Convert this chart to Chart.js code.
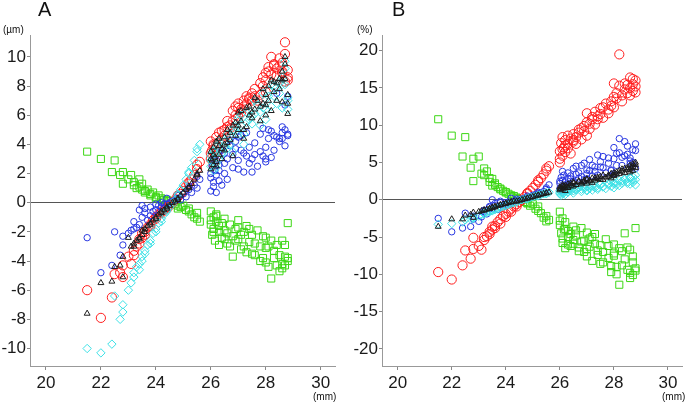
<!DOCTYPE html>
<html lang="en">
<head>
<meta charset="UTF-8">
<title>Axial length scatter A / B</title>
<script src="https://cdn.jsdelivr.net/npm/chart.js"></script>
<style>
  body { margin: 0; background: #fff; font-family: "Liberation Sans", Arial, sans-serif; }
  #wrap { position: relative; width: 688px; height: 406px; overflow: hidden; }
  .panel { position: absolute; top: 0; width: 344px; height: 406px; }
  .lbl { position: absolute; color: #111; white-space: nowrap; line-height: 1; }
</style>
</head>
<body>
<div id="wrap">
  <div class="panel" style="left:0"><canvas id="chartA"></canvas></div>
  <div class="panel" style="left:344px"><canvas id="chartB"></canvas></div>
  <span class="lbl" style="left:38px; top:-1px; font-size:20px">A</span>
  <span class="lbl" style="left:3px; top:25px; font-size:10px">(µm)</span>
  <span class="lbl" style="left:313px; top:392px; font-size:10px">(mm)</span>
  <span class="lbl" style="left:392px; top:-1px; font-size:20px">B</span>
  <span class="lbl" style="left:357px; top:25px; font-size:10px">(%)</span>
  <span class="lbl" style="left:662px; top:392px; font-size:10px">(mm)</span>
</div>
<script>
// axial length (mm), shared by every series
const axialLength = [21.5, 22.0, 22.4, 22.5, 22.7, 22.8, 22.8, 23.0, 23.1, 23.2, 23.3, 23.4, 23.5, 23.5, 23.6, 23.7, 23.8, 23.9, 24.0, 24.1,
  24.2, 24.3, 24.4, 24.5, 24.6, 24.7, 24.8, 24.9, 25.0, 25.1, 25.2, 25.3, 25.4, 25.5, 25.6,
  26.0, 26.0, 26.05, 26.1, 26.1, 26.15, 26.2, 26.2, 26.3, 26.3, 26.4, 26.5, 26.5, 26.6, 26.7, 26.8, 26.8, 26.9, 27.0, 27.0,
  27.1, 27.2, 27.3, 27.3, 27.4, 27.5, 27.6, 27.7, 27.8, 27.9, 28.0, 28.0, 28.1, 28.2, 28.2, 28.3, 28.4, 28.5, 28.6, 28.6,
  28.7, 28.7, 28.8, 28.8, 28.8,
  23.2, 23.4, 23.6, 23.8, 24.0, 24.2, 24.4, 24.8, 25.2, 25.5,
  26.0, 26.1, 26.2, 26.3, 26.4, 26.5, 26.6, 26.7, 26.9, 27.0, 27.1, 27.2, 27.4, 27.5, 27.6, 27.8, 27.9, 28.0, 28.1, 28.3,
  28.4, 28.5, 28.6, 28.7];

// panel A (µm)
const aRed = [-6.0, -7.9, -6.5, -4.9, -4.8, -5.1, -4.3, -3.7, -4.2, -3.3, -3.0, -2.8, -2.4, -2.1, -2.0, -1.7, -1.5, -1.2, -1.0, -0.8,
  -0.6, -0.5, -0.3, -0.2, 0.0, 0.2, 0.4, 0.6, 0.8, 1.1, 1.3, 1.6, 1.9, 2.3, 2.8,
  3.0, 4.2, 3.6, 2.6, 4.0, 3.3, 4.5, 3.8, 4.1, 4.8, 4.4, 5.0, 4.6, 5.2, 5.1, 6.3, 5.6, 6.6, 5.9, 6.5,
  6.2, 7.0, 6.8, 7.3, 7.1, 7.5, 7.3, 7.0, 8.2, 8.0, 8.4, 7.6, 9.3, 10.0, 8.8, 9.4, 9.2, 9.4, 9.0, 9.6,
  11.0, 8.3, 9.1, 8.6, 8.4,
  -3.6, -2.5, -2.2, -1.6, -1.1, -0.7, -0.4, 0.5, 1.4, 2.6,
  3.4, 3.9, 4.0, 3.6, 4.9, 4.3, 5.6, 5.3, 6.0, 6.8, 6.4, 6.6, 7.2, 7.0, 7.8, 7.4, 8.6, 8.9, 9.0, 9.5,
  8.7, 9.9, 8.9, 10.2];
const aBlue = [-2.4, -4.8, -4.3, -2.0, -3.6, -2.9, -2.3, -2.1, -1.9, -1.3, -1.7, -0.5, -1.0, -0.2, -0.7, -1.2, -0.3, -0.6, -0.5, -0.2,
  -0.3, -0.1, -0.1, 0.0, 0.1, 0.2, 0.3, 0.2, 0.6, 0.4, 0.9, 0.7, 1.2, 1.0, 1.6,
  1.7, 0.8, 2.5, 1.4, 3.0, 2.2, 0.7, 1.9, 1.5, 2.6, 1.2, 3.4, 2.0, 1.6, 3.9, 2.4, 3.3, 4.2, 2.9, 4.5,
  3.6, 2.1, 3.2, 4.8, 2.7, 3.0, 4.1, 2.5, 3.5, 5.1, 2.8, 3.0, 4.4, 4.9, 3.1, 4.6, 7.5, 4.2, 4.8, 4.4,
  6.7, 5.0, 4.7, 7.3, 4.6,
  -1.8, -1.5, -0.4, -0.9, -0.1, 0.0, 0.3, 0.5, 1.1, 1.8,
  2.0, 1.1, 2.9, 2.2, 3.6, 2.7, 3.0, 4.3, 3.7, 2.3, 4.6, 3.4, 3.8, 2.1, 3.3, 4.7, 3.2, 3.8, 5.0, 3.6,
  4.5, 4.4, 5.2, 3.9];
const aBlack = [-7.6, -5.5, -5.4, -4.4, -4.3, -5.1, -3.7, -2.4, -3.0, -3.0, -2.6, -2.4, -2.2, -1.9, -1.8, -1.6, -1.4, -1.2, -1.0, -0.8,
  -0.6, -0.5, -0.3, -0.2, 0.0, 0.1, 0.3, 0.5, 0.7, 0.9, 1.1, 1.3, 1.6, 1.9, 2.2,
  2.3, 3.5, 2.9, 3.8, 2.6, 3.1, 4.2, 2.5, 3.3, 3.9, 3.0, 4.5, 3.6, 4.1, 4.8, 3.2, 5.3, 4.6, 6.2, 5.0,
  5.6, 4.4, 6.5, 5.2, 6.0, 5.8, 6.4, 7.0, 5.6, 6.8, 7.4, 6.0, 7.0, 8.4, 6.3, 7.6, 8.2, 8.5, 8.4, 6.9,
  10.0, 9.5, 7.4, 6.8, 6.1,
  -2.8, -2.5, -2.0, -1.5, -1.1, -0.7, -0.4, 0.2, 1.0, 2.0,
  3.0, 3.3, 2.8, 4.4, 3.7, 4.0, 5.0, 4.3, 5.5, 5.3, 6.3, 5.0, 6.6, 6.2, 7.2, 6.6, 7.8, 6.7, 8.0, 8.3,
  7.0, 7.8, 9.0, 8.5];
const aCyan = [-10.0, -10.3, -9.7, -6.4, -8.0, -7.0, -7.5, -6.0, -5.5, -5.1, -4.4, -4.6, -3.7, -4.0, -3.3, -2.9, -2.6, -2.1, -1.8, -1.4,
  -1.1, -0.8, -0.5, -0.3, -0.1, 0.2, 0.5, 0.9, 1.2, 1.6, 2.0, 2.4, 2.9, 3.5, 4.0,
  2.5, 3.2, 2.8, 3.5, 2.2, 3.4, 3.9, 2.7, 3.0, 4.2, 3.3, 4.2, 3.9, 3.7, 4.5, 3.5, 5.0, 4.9, 5.8, 4.7,
  5.3, 4.0, 6.2, 5.5, 5.7, 5.4, 6.1, 6.7, 5.3, 6.5, 7.1, 5.7, 7.3, 8.1, 6.6, 7.3, 7.9, 8.2, 8.1, 6.5,
  9.7, 9.2, 7.2, 7.0, 6.4,
  -4.8, -4.2, -3.5, -2.8, -2.0, -1.3, -0.6, 0.6, 2.1, 3.7,
  2.9, 3.6, 2.4, 4.0, 3.4, 3.8, 4.7, 4.0, 5.2, 5.6, 6.0, 4.7, 6.3, 5.9, 7.0, 6.2, 7.5, 6.4, 7.7, 8.0,
  6.8, 7.5, 8.6, 8.1];
const aGreen = [3.5, 3.0, 2.1, 2.9, 1.9, 1.3, 2.1, 1.6, 1.9, 1.2, 1.0, 1.6, 1.3, 0.9, 0.8, 0.9, 0.6, 0.7, 0.4, 0.5,
  0.3, 0.2, 0.2, 0.1, 0.0, -0.1, -0.2, -0.3, -0.2, -0.5, -0.4, -0.8, -1.0, -0.7, -1.3,
  -0.6, -1.5, -2.2, -1.0, -1.8, -2.6, -1.3, -0.8, -2.0, -1.6, -2.4, -1.1, -1.9, -2.8, -1.5, -2.3, -3.7, -1.8, -1.2, -2.5,
  -3.2, -2.0, -1.6, -3.4, -2.7, -2.2, -3.6, -1.9, -3.0, -3.8, -2.4, -4.1, -3.0, -5.2, -2.6, -3.8, -4.3, -4.7, -2.6, -4.2,
  -3.7, -4.3, -1.4, -4.0, -3.8,
  1.4, 1.1, 0.7, 0.5, 0.3, 0.2, 0.1, -0.4, -0.6, -1.1,
  -1.2, -2.0, -0.9, -2.9, -1.4, -2.5, -2.1, -3.0, -2.6, -1.7, -2.2, -3.0, -1.8, -3.5, -2.8, -4.0, -2.3, -3.1, -4.4, -3.3,
  -2.9, -3.6, -4.5, -2.9];

// panel B (%)
const bRed = [-9.7, -10.7, -8.8, -6.8, -7.9, -5.1, -6.6, -6.2, -6.7, -5.0, -4.9, -4.3, -4.0, -3.6, -3.5, -3.0, -2.6, -2.2, -1.9, -1.6,
  -1.2, -0.9, -0.6, -0.3, 0.0, 0.4, 0.8, 1.2, 1.6, 2.0, 2.4, 2.9, 3.4, 3.9, 4.5,
  5.0, 6.5, 7.6, 5.9, 8.4, 7.0, 6.4, 8.0, 6.9, 7.5, 8.2, 7.8, 8.8, 7.5, 9.0, 8.1, 9.6, 9.9, 8.6, 11.6,
  10.2, 10.8, 10.1, 11.8, 11.2, 12.3, 11.0, 12.9, 11.6, 13.2, 12.4, 15.6, 13.6, 19.5, 15.3, 14.0, 15.6, 14.3, 16.4, 15.0,
  15.5, 14.6, 16.0, 14.4, 15.2,
  -5.4, -4.6, -3.8, -3.2, -2.3, -1.6, -0.9, 0.9, 2.6, 4.2,
  5.5, 6.8, 7.3, 8.6, 6.2, 8.0, 8.4, 9.4, 9.2, 10.4, 9.5, 11.1, 10.8, 11.5, 12.4, 12.1, 12.6, 13.8, 14.3, 13.2,
  14.8, 15.4, 14.0, 16.2];
const bBlue = [-2.5, -4.3, -3.8, -1.8, -3.6, -2.6, -2.2, -2.9, -2.3, -1.6, -1.9, -0.9, -1.2, 0.0, -0.8, -1.3, -0.4, -0.7, -0.6, -0.3,
  -0.4, -0.2, -0.1, 0.0, 0.1, 0.2, 0.3, 0.4, 0.6, 0.7, 0.8, 0.9, 1.1, 1.4, 2.0,
  2.2, 1.5, 3.0, 1.2, 2.6, 3.3, 1.8, 2.4, 3.6, 2.0, 2.8, 4.2, 2.5, 3.4, 2.9, 4.6, 3.1, 2.7, 4.0, 3.5,
  5.4, 3.2, 4.4, 3.8, 6.0, 5.1, 4.3, 3.6, 5.6, 4.0, 3.5, 7.0, 4.6, 8.2, 6.3, 5.7, 7.8, 6.1, 5.2, 4.8,
  6.7, 4.5, 7.5, 6.6, 4.2,
  -1.4, -1.0, -0.5, -0.2, -0.4, 0.2, 0.1, 0.5, 1.0, 1.6,
  2.5, 3.8, 2.0, 2.9, 3.2, 2.3, 4.5, 3.6, 4.9, 2.8, 3.9, 4.6, 3.3, 4.4, 5.8, 4.9, 3.9, 5.5, 6.2, 4.6,
  5.9, 7.2, 5.6, 5.0];
const bBlack = [-3.6, -2.6, -2.6, -2.1, -2.0, -2.4, -1.7, -1.6, -1.5, -1.4, -1.3, -1.2, -1.1, -1.0, -0.9, -0.8, -0.7, -0.6, -0.5, -0.4,
  -0.3, -0.2, -0.2, -0.1, 0.0, 0.1, 0.2, 0.3, 0.4, 0.5, 0.6, 0.7, 0.8, 0.9, 1.0,
  1.3, 1.7, 1.5, 2.0, 1.4, 1.8, 1.6, 1.2, 2.1, 1.7, 1.9, 2.2, 1.8, 2.0, 2.4, 2.1, 2.3, 2.6, 2.2, 2.7,
  2.5, 2.3, 2.9, 2.6, 2.8, 3.1, 2.7, 3.0, 3.3, 2.9, 3.2, 3.6, 3.4, 3.9, 3.5, 3.8, 4.2, 4.0, 3.7, 4.6,
  4.4, 3.9, 5.0, 4.3, 4.7,
  -1.4, -1.2, -1.0, -0.7, -0.5, -0.3, -0.2, 0.2, 0.6, 0.9,
  1.5, 1.8, 1.9, 1.6, 2.2, 2.4, 2.0, 2.5, 2.4, 2.8, 2.6, 2.9, 3.0, 2.7, 3.3, 3.1, 3.5, 3.3, 3.7, 4.1,
  3.6, 4.3, 4.1, 4.8];
const bCyan = [-3.3, -3.2, -3.0, -2.7, -2.6, -2.4, -2.5, -2.2, -2.0, -1.9, -1.7, -1.6, -1.5, -1.4, -1.3, -1.2, -1.0, -0.9, -0.8, -0.6,
  -0.5, -0.4, -0.3, -0.1, 0.0, 0.1, 0.2, 0.3, 0.4, 0.5, 0.6, 0.7, 0.8, 0.9, 1.0,
  0.8, 1.2, 0.6, 1.0, 1.4, 0.9, 1.1, 0.7, 1.3, 1.0, 1.2, 1.5, 0.9, 1.3, 1.6, 1.1, 1.4, 1.7, 1.2, 1.8,
  1.5, 1.3, 1.9, 1.6, 1.4, 2.0, 1.7, 1.5, 2.2, 1.8, 1.6, 2.3, 2.0, 2.6, 1.9, 2.2, 2.8, 2.4, 2.1, 3.0,
  2.6, 2.3, 3.3, 2.7, 2.0,
  -1.8, -1.6, -1.3, -1.0, -0.8, -0.5, -0.3, 0.1, 0.5, 0.8,
  1.0, 0.8, 1.2, 1.1, 1.5, 1.2, 1.4, 1.6, 1.5, 1.3, 1.7, 1.9, 1.6, 2.1, 1.8, 2.0, 2.4, 2.1, 2.3, 2.5,
  2.7, 2.2, 2.9, 3.1];
const bGreen = [10.8, 8.6, 5.8, 8.4, 4.3, 5.5, 2.5, 5.8, 3.5, 3.3, 3.8, 2.4, 2.8, 1.9, 2.2, 1.7, 1.5, 1.2, 1.0, 0.8,
  0.6, 0.5, 0.3, 0.1, 0.0, -0.3, -0.5, -0.8, -0.6, -1.2, -0.9, -1.8, -2.4, -2.9, -2.7,
  -1.6, -3.4, -4.5, -2.5, -5.8, -4.0, -6.5, -3.0, -5.0, -4.2, -6.2, -3.6, -5.4, -4.8, -6.4, -3.8, -5.6, -7.0, -4.4, -6.6,
  -5.2, -8.2, -5.9, -4.6, -7.4, -6.1, -8.4, -5.3, -7.8, -9.7, -6.0, -7.2, -10.0, -11.4, -6.5, -8.8, -4.5, -9.4, -6.7, -10.5,
  -8.4, -10.1, -3.8, -9.2, -9.5,
  4.2, 2.9, 2.0, 1.4, 1.0, 0.4, 0.2, -0.4, -1.5, -2.2,
  -2.8, -5.2, -3.9, -6.0, -4.6, -5.9, -4.1, -6.9, -5.5, -7.6, -6.3, -5.0, -6.8, -8.6, -7.0, -6.2, -8.9, -7.5, -9.0, -6.9,
  -8.0, -6.4, -9.8, -7.6];

// tick labels
const xTicks = [20, 22, 24, 26, 28, 30];
const aTicks = [-10, -8, -6, -4, -2, 0, 2, 4, 6, 8, 10];
const bTicks = [-20, -15, -10, -5, 0, 5, 10, 15, 20];

function points(ys) {
  return axialLength.map((x, i) => ({ x: x, y: ys[i] }));
}

function makeChart(id, series, yTicks, yMin, yMax, yWidth, padRight) {
  const look = [
    { color: '#1c1c1c', style: 'triangle', r: 3.4 },
    { color: 'rgb(60,225,230)', style: 'rectRot', r: 4.2 },
    { color: 'rgb(40,55,225)', style: 'circle', r: 3.2 },
    { color: 'rgb(255,30,30)', style: 'circle', r: 4.6 },
    { color: 'rgb(60,215,20)', style: 'rect', r: 5 }
  ];
  new Chart(document.getElementById(id), {
    type: 'scatter',
    data: {
      datasets: series.map((ys, i) => ({
        data: points(ys),
        borderColor: look[i].color,
        backgroundColor: 'rgba(0,0,0,0)',
        pointStyle: look[i].style,
        pointRadius: look[i].r,
        pointBorderWidth: 1,
        clip: false
      }))
    },
    options: {
      responsive: true,
      maintainAspectRatio: false,
      animation: false,
      layout: { padding: { top: 35, right: padRight, left: 0, bottom: 0 } },
      plugins: { legend: { display: false }, tooltip: { enabled: false } },
      scales: {
        x: {
          min: 19.42, max: 30.52,
          afterBuildTicks: s => { s.ticks = xTicks.map(v => ({ value: v })); },
          afterFit: s => { s.height = 40; },
          grid: { drawOnChartArea: false, tickLength: 4, tickColor: '#888' },
          border: { color: '#999', width: 1 },
          ticks: { padding: 3, color: '#1a1a1a', font: { family: 'Liberation Sans', size: 17 } }
        },
        y: {
          min: yMin, max: yMax,
          afterBuildTicks: s => { s.ticks = yTicks.map(v => ({ value: v })); },
          afterFit: s => { s.width = yWidth; },
          grid: {
            color: c => (c.tick && c.tick.value === 0) ? '#555' : 'rgba(0,0,0,0)',
            tickLength: 3, tickColor: '#888'
          },
          border: { color: '#999', width: 1 },
          ticks: { padding: 1, color: '#1a1a1a', font: { family: 'Liberation Sans', size: 17 } }
        }
      }
    }
  });
}

makeChart('chartA', [aBlack, aCyan, aBlue, aRed, aGreen], aTicks, -11.2, 11.5, 30, 9);
makeChart('chartB', [bBlack, bCyan, bBlue, bRed, bGreen], bTicks, -22.3, 22.1, 38, 0);
</script>
</body>
</html>
